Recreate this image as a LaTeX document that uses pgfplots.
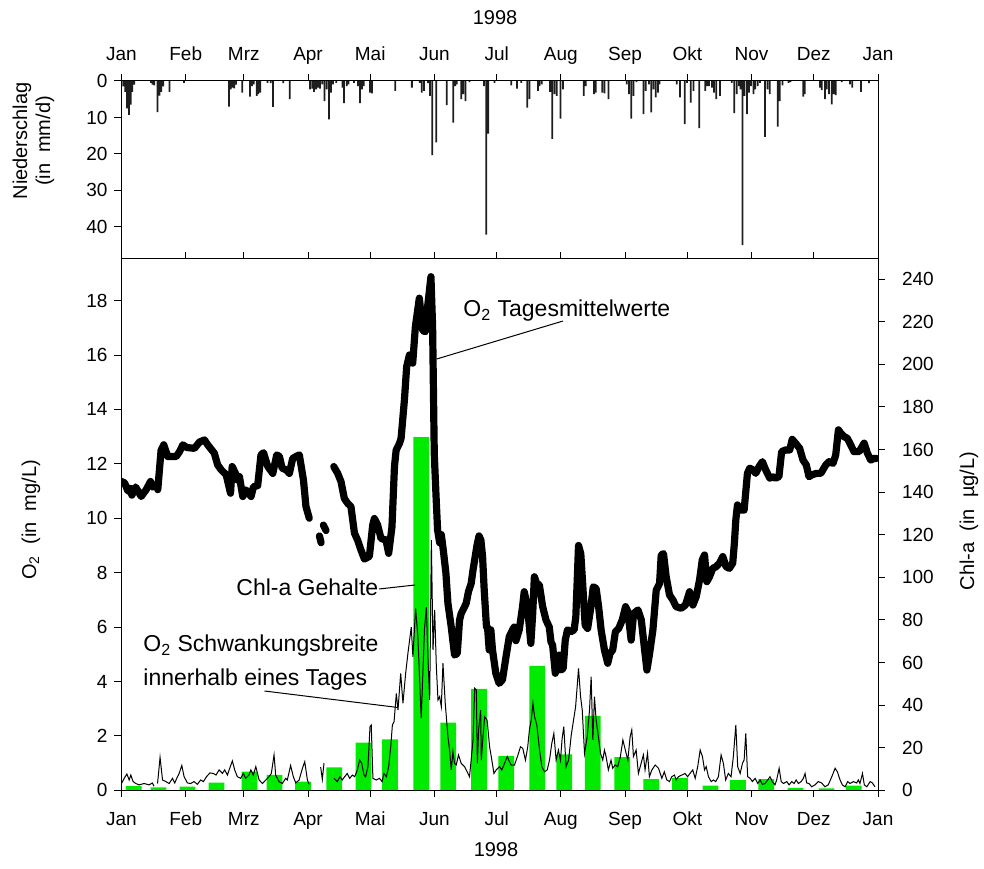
\documentclass[border=0pt]{standalone}
\usepackage{fontspec}
\setmainfont{Liberation Sans}
\usepackage{pgfplots}
\pgfplotsset{compat=1.18}
\definecolor{chlgreen}{RGB}{0,235,0}
\definecolor{rainbar}{RGB}{30,30,30}
\newcommand{\tickfont}{\fontsize{9.5}{11}\selectfont}
\newcommand{\labfont}{\fontsize{10}{11.5}\selectfont}
\newcommand{\annfont}{\fontsize{11.5}{17}\selectfont}
\begin{document}
\begin{tikzpicture}
\useasboundingbox (-60.75pt,-38.85pt) rectangle (431.25pt,395.15pt);
\pgfplotsset{
  every axis/.append style={
    scale only axis, width=378.25pt, xmin=0, xmax=365,
    /pgf/number format/assume math mode=true,
    tick label style={font=\tickfont},
    major tick length=3.5pt,
    tick style={black, line width=0.5pt},
    axis line style={line width=0.5pt},
    tick align=outside,
  },
}
% ---------- Chl-a bars (right axis), drawn first ----------
\begin{axis}[at={(0pt,0pt)}, anchor=south west, height=265.65pt,
  ymin=0, ymax=249.5, axis x line=none, axis y line*=right,
  ytick={0,20,...,240}, yticklabel shift=5pt]
\addplot[ybar, bar width=7.6, fill=chlgreen, draw=none] coordinates {
(5.9,2.0)(17.9,1.4)(31.9,1.7)(45.8,3.6)(61.7,8.8)(73.8,7.2)(87.6,4.1)(102.7,10.8)
(116.7,22.4)(129.6,23.9)(144.6,165.9)(157.7,31.8)(172.5,47.6)(185.6,16.1)(200.6,58.4)
(213.6,16.9)(227.4,35.0)(241.6,15.6)(255.6,5.3)(269.5,5.8)(284.2,2.2)(297.4,4.8)
(311.1,5.2)(325.2,1.1)(340.2,0.9)(353.3,2.2)};
\end{axis}
% ---------- O2 lines (left axis) ----------
\begin{axis}[at={(0pt,0pt)}, anchor=south west, height=265.65pt,
  ymin=0, ymax=19.53, ytick={0,2,...,18},
  xtick={0,31,59,90,120,151,181,212,243,273,304,334,365},
  xticklabels={Jan,Feb,Mrz,Apr,Mai,Jun,Jul,Aug,Sep,Okt,Nov,Dez,Jan},
  xticklabel style={text height=7pt, text depth=2pt, yshift=-3.6pt},
  xtick pos=both, xticklabel pos=left, ytick pos=left,
  unbounded coords=jump]
\addplot[black, line width=0.5pt] coordinates {
(0,0.25)(1.3,0.44)(2.6,0.6)(3.7,0.38)(4.5,0.56)(5.6,0.32)(6.9,0.25)(8.5,0.2)(10.9,0.25)(13.3,0.2)(14.9,0.27)(15.7,0.15)
(16.5,nan)
(17.4,0.25)(18.6,1.21)(19.8,0.38)(21.4,0.32)(23.0,0.25)(24.6,0.44)(25.7,0.27)(27.0,0.5)(27.8,0.62)(29.1,0.91)(30.2,0.5)(31.8,0.27)(33.4,0.25)(35.0,0.32)(36.6,0.22)(38.2,0.38)(39.5,0.32)(41.1,0.51)(42.7,0.64)(44.3,0.62)(45.6,0.56)(47.1,0.75)(48.7,0.62)(49.8,0.75)(51.1,0.56)(52.2,0.81)(53.5,1.08)(54.6,0.75)(55.9,0.5)(57.5,0.44)(58.8,0.62)(59.9,0.44)(61.5,0.56)(62.4,0.75)(63.6,0.56)(64.8,0.87)(66.4,0.38)(68.0,0.25)(69.6,0.38)(71.2,0.5)(72.3,0.62)(73.6,1.3)(74.4,0.56)(76.0,0.32)(77.6,0.25)(79.2,0.44)(80.0,0.38)(81.6,0.91)(82.9,0.5)(84.1,0.27)(85.7,0.38)(87.3,0.81)(88.4,1.05)(89.7,0.38)(90.5,0.22)
(93,nan)
(96.1,0.85)(96.9,0.4)(97.7,1.0)
(100,nan)
(102.5,0.44)(104.1,0.32)(105.4,0.5)(106.5,0.38)(107.7,0.5)(108.9,0.62)(110.1,0.44)(111.4,0.56)(112.5,0.5)(113.8,0.75)(114.9,1.11)(115.9,0.99)(117.0,0.56)(117.8,0.5)(118.9,0.87)(119.9,2.34)(120.5,2.4)(121.3,0.44)(122.9,0.38)(124.5,0.44)(125.7,0.32)(126.6,0.62)(127.8,0.5)(128.9,0.87)(129.9,1.6)(130.7,2.4)(131.5,2.52)(132.6,3.56)(133.4,2.95)(134.7,4.3)(135.8,3.2)(137.1,4.3)(138.2,5.04)(139.8,6.0)(140.6,4.91)(141.9,6.69)(143.0,5.65)(144.6,2.65)(146.2,5.95)(147.1,6.73)(147.9,4.79)(148.7,3.32)(149.5,9.2)(150.3,5.16)(151.1,6.63)(151.9,4.55)(152.7,3.32)(153.5,3.44)(154.3,3.07)(155.1,4.67)(156.2,3.2)(157.5,1.97)(158.3,1.48)(159.1,0.75)(159.9,1.42)(160.7,0.99)(161.5,0.93)(162.6,1.3)(163.9,0.99)(165.5,0.87)(166.8,0.68)(167.9,0.5)(168.7,1.11)(169.6,1.85)(170.4,3.75)(171.2,3.69)(171.7,0.99)(172.3,2.22)(173.3,2.95)(173.6,1.11)(174.4,1.97)(175.2,2.7)(176.4,2.58)(177.6,1.6)(178.4,1.24)(179.7,0.62)(180.8,0.75)(182.4,0.87)(183.5,0.75)(184.8,0.99)(186.1,1.24)(187.2,1.05)(188.0,0.93)(189.6,0.93)(191.3,1.3)(192.5,1.6)(193.6,1.54)(194.9,1.11)(196.0,1.6)(196.9,2.28)(197.7,2.58)(198.5,3.2)(199.3,2.7)(200.4,2.4)(201.7,1.48)(202.8,0.87)(204.1,0.68)(205.4,0.75)(206.5,1.11)(207.6,1.72)(208.6,2.09)(209.7,1.11)(210.8,1.48)(211.8,1.11)(212.6,1.91)(213.4,2.34)(214.5,0.87)(215.7,1.11)(217.0,2.03)(218.1,2.58)(219.1,3.07)(219.9,3.87)(220.5,4.48)(221.5,3.44)(222.3,2.95)(223.4,1.36)(224.7,1.97)(225.8,2.95)(226.6,4.18)(227.4,1.85)(228.2,3.44)(229.0,2.58)(230.1,1.97)(231.1,1.36)(232.2,1.11)(233.0,1.48)(233.8,1.24)(234.9,0.75)(236.2,1.11)(237.0,0.81)(238.1,0.93)(239.4,0.87)(240.7,1.24)(241.9,1.85)(242.7,1.6)(244.3,1.11)(245.4,1.97)(246.2,2.22)(247.0,1.24)(248.3,1.48)(249.4,0.62)(250.7,0.99)(251.8,1.3)(252.6,0.75)(253.8,1.36)(254.7,0.5)(255.9,0.75)(257.5,0.93)(259.1,0.81)(260.7,0.44)(261.9,0.68)(263.1,0.38)(264.4,0.32)(265.5,0.5)(266.8,0.56)(267.6,0.38)(268.7,0.5)(270.3,0.56)(271.9,0.62)(273.1,0.5)(274.3,0.62)(275.6,0.75)(276.8,0.44)(278.0,0.87)(279.2,1.48)(280.3,1.24)(281.3,0.75)(282.1,0.87)(283.2,0.5)(284.5,0.32)(285.6,0.38)(286.7,0.32)(288.0,0.5)(289.3,1.3)(290.4,0.99)(291.5,0.38)(292.8,0.62)(294.1,0.5)(295.2,1.24)(296.4,2.4)(297.3,0.87)(298.5,0.62)(299.6,0.99)(300.4,1.11)(301.2,2.09)(302.1,0.5)(303.3,0.44)(304.4,0.32)(305.7,0.44)(307.0,0.25)(308.1,0.38)(309.2,0.22)(310.5,0.25)(311.8,0.38)(312.9,0.5)(314.0,0.32)(315.3,0.2)(316.1,0.38)(317.3,0.81)(318.3,0.32)(319.4,0.25)(321.0,0.32)(322.1,0.2)(323.4,0.32)(324.5,0.25)(325.5,0.38)(326.6,0.25)(327.9,0.32)(329.0,0.44)(329.8,0.62)(330.6,0.27)(331.7,0.25)(333.0,0.13)(334.6,0.2)(336.2,0.32)(337.8,0.27)(339.4,0.13)(341.0,0.2)(342.7,0.5)(344.3,0.81)(345.4,0.68)(346.7,0.38)(347.8,0.2)(349.1,0.13)(350.4,0.32)(351.5,0.25)(353.1,0.32)(354.7,0.27)(355.5,0.38)(356.3,0.25)(357.5,0.62)(358.4,0.2)(359.6,0.13)(361.2,0.32)(362.3,0.27)(363.5,0.13)};
\addplot[black, line width=3.6pt, line join=round, line cap=round] coordinates {
(0,11.35)(1.5,11.3)(3.1,11.0)(4.2,11.1)(5.0,10.85)(6.8,11.15)(9.5,10.8)(11.9,11.05)(14.0,11.35)(15.1,11.15)
(16.3,nan)
(17.5,11.05)(19.1,12.5)(20.4,12.7)(22.3,12.27)(26.4,12.27)(28.0,12.45)(29.6,12.7)(31.5,12.6)(35.2,12.57)(37.6,12.8)(40.0,12.88)(41.6,12.7)(44.8,12.39)(46.4,11.96)(48.1,11.78)(50.5,11.6)(52.6,10.92)(53.4,11.9)(55.0,11.65)(56.1,11.4)(56.9,11.53)(58.5,10.8)(60.1,11.04)(62.5,10.8)(63.7,11.16)(65.7,11.2)(67.3,12.33)(68.5,12.41)(70.6,11.9)(73.0,11.65)(74.9,12.33)(76.2,12.27)(77.5,11.84)(79.5,11.78)(81.0,11.65)(82.6,12.2)(84.2,12.27)(85.8,12.33)(87.8,11.4)(89.0,10.43)(90.6,10.0)
(93,nan)
(95.5,9.35)(96.3,9.1)
(96.9,nan)
(97.4,9.75)(98.7,9.55)
(100,nan)
(102.4,11.9)(104.3,11.65)(105.9,11.35)(107.5,10.73)(109.1,10.55)(110.7,10.43)(112.4,9.45)(113.9,9.2)(115.5,8.84)(117.2,8.5)(119.6,8.6)(121.2,9.75)(122,9.99)(123.6,9.75)(125.2,9.26)(127.6,9.2)(128.9,8.71)(130.5,9.69)(131.7,11.9)(132.5,12.5)(134.1,12.75)(134.9,12.94)(136.5,14.35)(137.6,15.58)(138.9,16.0)(140.5,15.7)(141.8,17.05)(143.7,18.09)(145.3,16.9)(146.6,16.86)(147.7,17.78)(149.3,18.88)(150.1,17.05)(150.9,12.39)(151.7,10.92)(152.5,9.57)(153.5,9.1)(154.3,9.4)(155.3,8.8)(156.5,8.0)(157.5,6.87)(159.1,6.0)(160.7,4.97)(162.0,5.03)(163.1,6.26)(163.9,6.5)(166.3,6.87)(167.4,7.3)(168.7,7.6)(169.6,8.1)(170.4,8.47)(171.5,9.0)(172.5,9.35)(173.4,9.2)(174.2,8.6)(175,7.36)(176.1,6.0)(176.6,6.0)(177.4,5.16)(178.2,5.9)(179.0,5.16)(180.6,4.3)(182.2,3.93)(183.8,4.06)(185.5,4.9)(187.1,5.65)(188.7,5.9)(189.5,6.0)(190.3,5.5)(191.9,5.9)(193.5,6.75)(194.3,7.3)(195.9,6.75)(197.5,5.4)(198.4,6.5)(199.2,7.85)(200.3,7.6)(201.6,7.55)(203.2,6.75)(204.8,6.26)(206.4,6.0)(207.2,5.46)(208.0,5.34)(209.3,4.3)(210.4,4.9)(211.2,4.97)(212.0,4.42)(213.1,4.48)(214.1,5.52)(215.2,5.9)(216.8,5.83)(218.4,5.9)(219.2,6.38)(220.0,7.97)(220.5,9.0)(221.6,8.7)(222.4,7.73)(223.7,6.07)(224.9,5.95)(226.5,6.75)(227.6,7.48)(229.0,7.42)(230.2,6.75)(231.4,5.9)(233.0,5.16)(234.6,4.67)(235.7,5.03)(237.0,5.16)(238.3,5.83)(239.9,5.95)(241.6,6.26)(243.2,6.75)(244.3,6.57)(245.9,5.52)(247.1,6.5)(249.2,6.63)(250.8,6.26)(252.4,5.16)(253.5,4.42)(254.8,5.03)(256.4,5.9)(258.0,7.36)(259.6,7.6)(260.4,8.65)(261.5,8.7)(262.8,7.85)(264.4,7.18)(266.0,7.0)(267.6,6.75)(270.0,6.69)(272.1,6.81)(274.1,7.3)(275.7,6.81)(277.3,7.12)(278.9,7.73)(280.2,8.47)(281.3,8.65)(282.4,7.67)(283.7,7.85)(285.3,8.16)(286.9,8.22)(288.5,8.35)(290.1,8.59)(291.7,8.22)(293.3,8.16)(294.9,8.35)(295.7,9.08)(296.4,9.94)(297.2,10.49)(298.8,10.3)(300.4,10.3)(302.0,11.65)(303.1,11.84)(304.7,11.78)(306.0,11.65)(307.6,11.9)(309.2,12.08)(310.8,11.78)(312.8,11.47)(314.0,11.53)(315.6,11.47)(317.2,11.53)(318.5,12.45)(320.4,12.51)(322.4,12.51)(323.6,12.9)(325.2,12.76)(327.2,12.57)(328.8,12.14)(330.4,11.96)(331.7,11.53)(333.3,11.6)(335.3,11.65)(337.4,11.65)(339.8,11.96)(341.4,12.08)(343.3,12.02)(344.6,12.33)(345.9,13.25)(347.0,13.13)(348.6,13.0)(350.2,12.94)(351.8,12.7)(353.4,12.45)(355.9,12.45)(358.3,12.76)(359.9,12.39)(361.5,12.14)(363.1,12.2)(364.3,12.2)};
\end{axis}
% ---------- precipitation (top panel) ----------
\begin{axis}[at={(0pt,265.65pt)}, anchor=south west, height=89pt,
  y dir=reverse, ymin=0, ymax=48.8, ytick={0,10,...,40},
  xtick={0,31,59,90,120,151,181,212,243,273,304,334,365},
  xticklabels={Jan,Feb,Mrz,Apr,Mai,Jun,Jul,Aug,Sep,Okt,Nov,Dez,Jan},
  xticklabel style={text height=7pt, text depth=2pt, yshift=1.2pt},
  xtick pos=right, xticklabel pos=right, ytick pos=left]
\addplot[ybar, bar width=0.85, fill=rainbar, draw=none] coordinates {
(0.8,1.5)(1.8,3)(2.7,7.5)(3.6,9.3)(4.4,6.5)(5.2,3)(6.1,1)(14.2,0.5)(15.0,1)(15.8,1.2)(17.4,8.5)(18.3,4)(19.2,3)(20.1,1.5)(23.2,3)(30.2,0.5)
(51.9,7)(52.7,2.3)(53.5,1.8)(54.4,2)(55.2,1)(58.3,3.2)(62.0,4.3)(63.0,1.4)(63.8,0.9)(65.2,4.1)(66.0,3.6)(66.9,3.2)(70.4,0.5)(72.0,0.6)(73.1,7.1)(78.0,0.6)(81.2,5)
(91.0,2.3)(92.0,2.1)(92.9,3)(93.9,2.3)(94.9,1.8)(95.8,2.1)(96.9,0.9)(98.0,5.5)(99.0,2.3)(100.1,10.5)(101.1,3.2)(102.0,0.9)(103.6,0.5)(106.6,1.8)(107.4,6.1)(108.7,1.4)(109.5,0.9)(112.2,0.5)(114.1,1.4)(115.1,6.1)(116.0,2.3)(116.9,1.4)(119.9,3.2)
(120.9,3.4)(132.1,2.7)(140.1,1.8)(143.9,0.5)(144.9,3.2)(145.9,2.7)(147.9,0.6)(148.8,4.1)(149.9,20.3)(151.9,16.8)(156.9,6.6)(160.1,11.4)(161.0,1.4)(161.8,0.9)(163.9,5)(164.9,3.6)(166.0,5.5)(167.9,0.3)
(174.9,1.4)(176.0,42.1)(176.9,14.4)(180.0,0.5)(188.0,1.2)(190.8,2.1)(192.9,0.5)(195.8,7.3)(196.9,5)(200.9,2.7)(201.7,1.4)(202.8,0.9)(206.8,3)(207.8,15.9)(208.9,3.6)(210.0,4.1)(211.8,10.3)(213.0,2.3)
(223.0,4.1)(224.0,1.4)(228.0,3.6)(228.8,3.2)(231.9,3.2)(233.0,3.4)(235.0,5)
(243.8,0.9)(244.9,3.6)(245.9,10.3)(247.0,4.1)(248.5,0.3)(251.8,9.1)(252.9,2.7)(254.5,0.9)(255.6,8.6)(256.7,2.3)(257.8,4.5)(258.8,3.2)(259.6,0.9)(267.9,0.9)(269.5,4.5)(271.8,11.8)(272.8,0.5)
(274.7,5.9)(276.0,2.7)(278.7,12.9)(281.6,2.7)(282.6,1.4)(283.5,1.4)(284.9,1.8)(285.9,3.2)(286.9,5)(288.8,4.1)(294.4,0.5)(295.6,8.8)(296.9,3.6)(297.9,1.4)(298.7,2.3)(299.6,45)(300.6,4.1)(301.8,9.1)(302.7,3.2)(303.7,1.4)
(304.9,3.6)(305.8,2.3)(307.0,1.4)(308.1,0.5)(310.5,15.3)(311.7,2.3)(312.8,3.6)(316.6,12.5)(317.6,5.5)(318.9,1.2)(321.8,0.5)(322.8,0.3)(328.9,4.3)(329.7,3.6)
(337.0,1.8)(337.8,2.5)(339.4,5)(340.3,2.3)(341.4,3.6)(342.7,6.4)(343.6,3.6)(344.6,3.9)(347.5,0.3)(351.5,0.9)(352.6,1.8)(356.8,3)(360.7,0.6)};
\end{axis}
% ---------- titles and labels ----------
\node[font=\labfont] at (186.75pt,386.15pt) {1998};
\node[font=\labfont] at (187.25pt,-29.85pt) {1998};
\node[rotate=90, align=center, font=\labfont] at (-44pt,324.65pt) {Niederschlag\\(in\ \ mm/d)};
\node[rotate=90, font=\labfont] at (-45.25pt,135.15pt) {O\textsubscript{2}\ \ (in\ \ mg/L)};
\node[rotate=90, font=\labfont] at (423.75pt,134.65pt) {Chl-a\ \ (in\ \ µg/L)};
% ---------- annotations ----------
\node[anchor=west, font=\annfont, inner sep=0pt] at (170.75pt,239.65pt) {O\textsubscript{2} Tagesmittelwerte};
\draw[line width=0.5pt] (157.6pt,215.65pt) -- (220.75pt,234.65pt);
\node[anchor=west, font=\annfont, inner sep=0pt] at (57.25pt,101.65pt) {Chl-a Gehalte};
\draw[line width=0.5pt] (128.75pt,100.65pt) -- (146.75pt,102.65pt);
\node[anchor=west, align=left, font=\annfont, inner sep=0pt] at (10.75pt,63.65pt) {O\textsubscript{2} Schwankungsbreite\\innerhalb eines Tages};
\draw[line width=0.5pt] (71.5pt,49.65pt) -- (138.25pt,41.4pt);
\end{tikzpicture}
\end{document}
